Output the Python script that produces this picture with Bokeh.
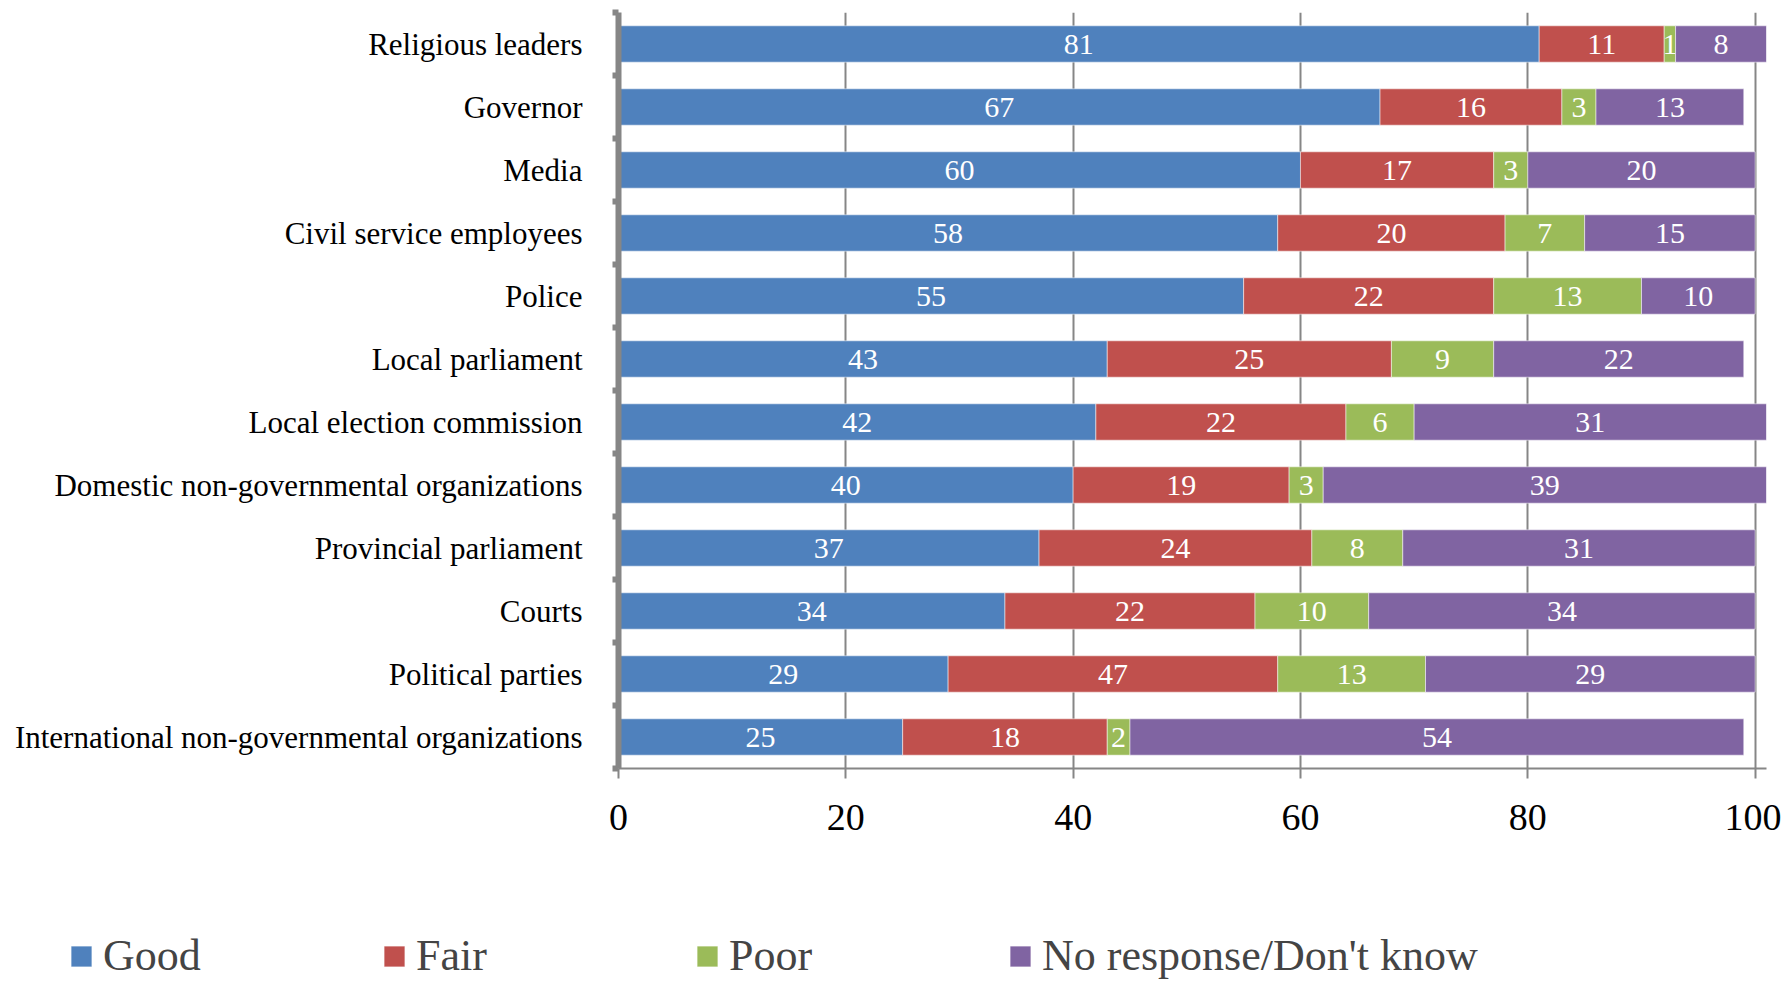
from bokeh.plotting import figure
from bokeh.layouts import column
from bokeh.models import (Range1d, FixedTicker, Legend, LegendItem, ColumnDataSource)
from bokeh.core.properties import value
from bokeh.embed import file_html
from bokeh.resources import INLINE

categories = ["Religious leaders", "Governor", "Media", "Civil service employees", "Police",
              "Local parliament", "Local election commission",
              "Domestic non-governmental organizations", "Provincial parliament", "Courts",
              "Political parties", "International non-governmental organizations"]
# bar lengths as drawn
good = [81, 67, 60, 58, 55, 43, 42, 40, 37, 34, 29, 25]
fair = [11, 16, 17, 20, 22, 25, 22, 19, 24, 22, 29, 18]
poor = [1, 3, 3, 7, 13, 9, 6, 3, 8, 10, 13, 2]
no_response = [8, 13, 20, 15, 10, 22, 31, 39, 31, 34, 29, 54]
# data labels as printed on the bars
good_labels = [81, 67, 60, 58, 55, 43, 42, 40, 37, 34, 29, 25]
fair_labels = [11, 16, 17, 20, 22, 25, 22, 19, 24, 22, 47, 18]
poor_labels = [1, 3, 3, 7, 13, 9, 6, 3, 8, 10, 13, 2]
no_response_labels = [8, 13, 20, 15, 10, 22, 31, 39, 31, 34, 29, 54]
series_names = ["Good", "Fair", "Poor", "No response/Don't know"]
colors = ["#4F81BD", "#C0504D", "#9BBB59", "#8064A2"]
x_ticks = [0, 20, 40, 60, 80, 100]

FONT = "Liberation Serif"
GREY = "#868686"

n = len(categories)
ys = list(range(n))

p = figure(width=1781, height=880, output_backend="svg", toolbar_location=None,
           x_range=Range1d(0, 101), y_range=Range1d(n - 0.5, -0.5),
           min_border_left=618, min_border_right=15, min_border_top=12, min_border_bottom=112)
p.outline_line_color = None
p.background_fill_color = "white"
p.border_fill_color = "white"

series = [good, fair, poor, no_response]
labels = [good_labels, fair_labels, poor_labels, no_response_labels]
sources = []
lefts = [0] * n
for vals, labs, name, col in zip(series, labels, series_names, colors):
    rights = [l + v for l, v in zip(lefts, vals)]
    src = ColumnDataSource(dict(y=ys, left=lefts, right=rights, v=[str(t) for t in labs],
                                mid=[(l + r) / 2 for l, r in zip(lefts, rights)]))
    sources.append(src)
    p.hbar(y="y", left="left", right="right", height=0.577, source=src,
           fill_color=col, line_color="white", line_alpha=0.5, line_width=1)
    p.text(x="mid", y="y", text="v", source=src, text_color="white",
           text_font=value(FONT), text_font_size="30px", text_align="center",
           text_baseline="middle")
    lefts = rights

# x axis
xa = p.xaxis[0]
xa.ticker = FixedTicker(ticks=x_ticks, minor_ticks=[])
xa.axis_line_color = GREY
xa.axis_line_width = 2
xa.major_tick_line_color = GREY
xa.major_tick_line_width = 2
xa.major_tick_out = 10
xa.major_tick_in = 0
xa.major_label_text_font = FONT
xa.major_label_text_font_size = "38px"
xa.major_label_text_color = "black"
xa.major_label_standoff = 26

# y axis (category labels at centres, bracket ticks at boundaries)
ya = p.yaxis[0]
ya.ticker = FixedTicker(ticks=ys, minor_ticks=[i - 0.5 for i in range(n + 1)])
ya.major_label_overrides = {i: c for i, c in zip(ys, categories)}
ya.axis_line_color = GREY
ya.axis_line_width = 6
ya.major_tick_out = 0
ya.major_tick_in = 0
ya.minor_tick_line_color = GREY
ya.minor_tick_line_width = 6
ya.minor_tick_out = 6
ya.minor_tick_in = 0
ya.major_label_text_font = FONT
ya.major_label_text_font_size = "31px"
ya.major_label_text_color = "black"
ya.major_label_standoff = 30

p.xgrid.grid_line_color = GREY
p.xgrid.grid_line_width = 2
p.xgrid.ticker = FixedTicker(ticks=x_ticks)
p.ygrid.grid_line_color = None

# legend strip (same series renderers, scrolled out of view so only the legend shows)
pl = figure(width=1781, height=101, output_backend="svg", toolbar_location=None,
            x_range=Range1d(0, 101), y_range=Range1d(n + 100, n + 101),
            min_border_left=0, min_border_right=0, min_border_top=0, min_border_bottom=0,
            x_axis_location=None, y_axis_location=None)
pl.outline_line_color = None
pl.xgrid.grid_line_color = None
pl.ygrid.grid_line_color = None
for fig in (p, pl):
    if "frame_align" in fig.properties():
        fig.frame_align = False
leg_renderers = [pl.hbar(y="y", left="left", right="right", height=0.577, source=s,
                         fill_color=c, line_color="white", line_alpha=0.5, line_width=1)
                 for s, c in zip(sources, colors)]
legend = Legend(items=[LegendItem(label=nm, renderers=[r]) for nm, r in zip(series_names, leg_renderers)],
                orientation="horizontal", location=(68, 0),
                glyph_width=26, glyph_height=26, label_standoff=9,
                label_text_font=FONT, label_text_font_size="44px",
                label_width=278, spacing=0, padding=0, margin=0,
                border_line_color=None, background_fill_alpha=0)
pl.add_layout(legend)

layout = column(p, pl, spacing=0)
open("out.html", "w").write(file_html(layout, INLINE))
